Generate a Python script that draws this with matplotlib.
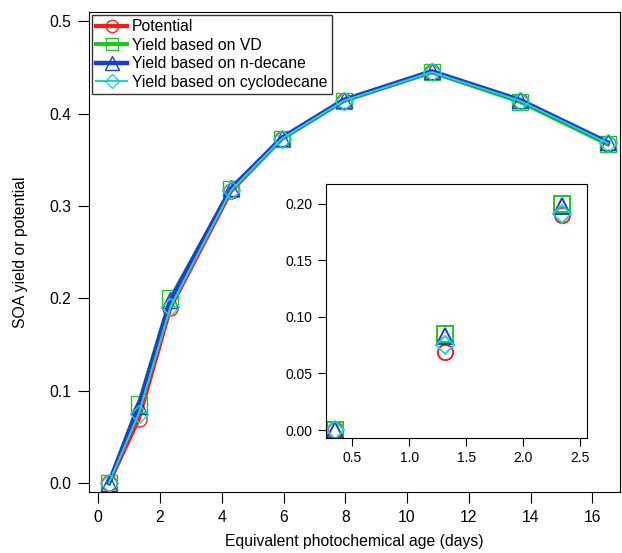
import matplotlib.pyplot as plt
import numpy as np

plt.rcParams['font.family'] = ['Liberation Sans', 'DejaVu Sans']

age = [0.35, 1.31, 2.34, 4.3, 5.95, 7.95, 10.8, 13.65, 16.5]
potential = [0.0, 0.069, 0.190, 0.316, 0.373, 0.414, 0.445, 0.414, 0.367]
yield_vd = [0.0, 0.085, 0.200, 0.318, 0.373, 0.414, 0.445, 0.413, 0.367]
yield_decane = [0.0, 0.083, 0.198, 0.319, 0.374, 0.415, 0.446, 0.415, 0.369]
yield_cyclo = [0.0, 0.075, 0.191, 0.317, 0.373, 0.414, 0.445, 0.414, 0.368]

labels = ["Potential", "Yield based on VD", "Yield based on n-decane",
          "Yield based on cyclodecane"]
colors = ["#ff1a1a", "#1fc81f", "#1a3fd0", "#22d0d0"]
markers = ["o", "s", "^", "D"]
msizes = [11, 11, 12, 9]
lwidths = [3, 3, 3.2, 1.5]
series = [potential, yield_vd, yield_decane, yield_cyclo]

fig = plt.figure(figsize=(6.22, 5.53), dpi=100)
ax = fig.add_axes([0.143, 0.110, 0.854, 0.868])

for s, lab, c, m, ms, lw in zip(series, labels, colors, markers, msizes, lwidths):
    ax.plot(age, s, color=c, marker=m, markersize=ms, markerfacecolor="none",
            markeredgewidth=1.0, linewidth=lw, label=lab)

ax.set_xlim(-0.3, 16.9)
ax.set_ylim(-0.01, 0.51)
ax.set_xticks(np.arange(0, 17, 2))
ax.set_yticks(np.arange(0, 0.51, 0.1))
ax.yaxis.set_major_formatter(plt.FormatStrFormatter("%.1f"))
ax.tick_params(direction="out", length=8, labelsize=11.3, pad=5)
ax.set_xlabel("Equivalent photochemical age (days)", fontsize=11.3, labelpad=6)
ax.set_ylabel("SOA yield or potential", fontsize=11.3, labelpad=15)

leg = ax.legend(loc="upper left", fontsize=11.3, frameon=True, fancybox=False,
                edgecolor="black", handlelength=2.0, borderpad=0.25,
                labelspacing=0.22, handletextpad=0.3, borderaxespad=0.2,
                markerscale=0.8)
leg.get_frame().set_linewidth(1.0)

ins = fig.add_axes([0.524, 0.208, 0.420, 0.460])
for s, c, m, ms in zip(series, colors, markers, msizes):
    ins.plot(age[:3], s[:3], linestyle="none", color=c, marker=m,
             markersize=ms, markerfacecolor="none", markeredgewidth=1.4)
ins.set_xlim(0.27, 2.56)
ins.set_ylim(-0.007, 0.2177)
ins.set_xticks([0.5, 1.0, 1.5, 2.0, 2.5])
ins.set_yticks([0.0, 0.05, 0.10, 0.15, 0.20])
ins.yaxis.set_major_formatter(plt.FormatStrFormatter("%.2f"))
ins.tick_params(direction="out", length=6, labelsize=10)

fig.savefig("out.png", dpi=100)
